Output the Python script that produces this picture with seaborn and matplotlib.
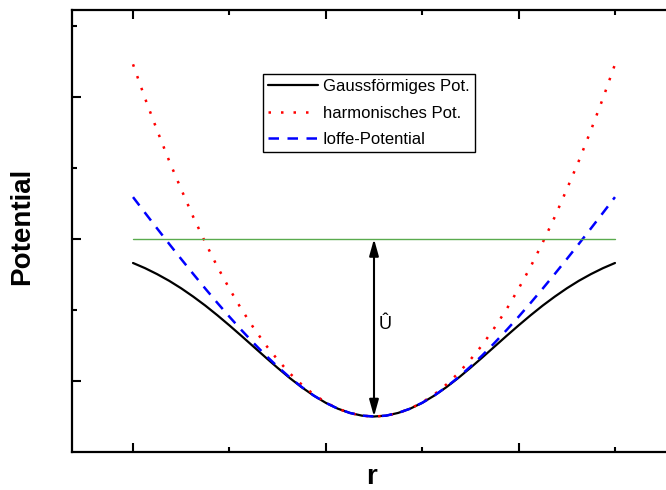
import matplotlib
matplotlib.use("Agg")
import matplotlib.pyplot as plt
import seaborn as sns
import pandas as pd

# ---- data ----
r_values = [0.0, 0.125, 0.25, 0.375, 0.5, 0.625, 0.75, 0.875, 1.0, 1.125,
            1.25, 1.375, 1.5, 1.625, 1.75, 1.875, 2.0, 2.125, 2.25, 2.375,
            2.5,
            2.625, 2.75, 2.875, 3.0, 3.125, 3.25, 3.375, 3.5, 3.625, 3.75,
            3.875, 4.0, 4.125, 4.25, 4.375, 4.5, 4.625, 4.75, 4.875, 5.0]
gauss_pot = [2.662, 2.589, 2.505, 2.411, 2.305, 2.188, 2.062, 1.926, 1.783, 1.635,
             1.484, 1.333, 1.185, 1.043, 0.912, 0.794, 0.692, 0.610, 0.550, 0.512,
             0.500,
             0.512, 0.550, 0.610, 0.692, 0.794, 0.912, 1.043, 1.185, 1.333, 1.484,
             1.635, 1.783, 1.926, 2.062, 2.188, 2.305, 2.411, 2.505, 2.589, 2.662]
harm_pot = [5.46, 4.98, 4.53, 4.10, 3.70, 3.31, 2.95, 2.61, 2.30, 2.01,
            1.75, 1.51, 1.30, 1.11, 0.95, 0.81, 0.70, 0.61, 0.55, 0.51,
            0.50,
            0.51, 0.55, 0.61, 0.70, 0.81, 0.95, 1.11, 1.30, 1.51, 1.75,
            2.01, 2.30, 2.61, 2.95, 3.31, 3.70, 4.10, 4.53, 4.98, 5.46]
ioffe_pot = [3.590, 3.368, 3.148, 2.931, 2.717, 2.507, 2.301, 2.100, 1.905, 1.717,
             1.536, 1.363, 1.202, 1.052, 0.915, 0.795, 0.693, 0.610, 0.550, 0.512,
             0.500,
             0.512, 0.550, 0.610, 0.693, 0.795, 0.915, 1.052, 1.202, 1.363, 1.536,
             1.717, 1.905, 2.100, 2.301, 2.507, 2.717, 2.931, 3.148, 3.368, 3.590]
depth_level = 3.0
min_level = 0.5
series_labels = ["Gaussförmiges Pot.", "harmonisches Pot.", "Ioffe-Potential"]
x_label = "r"
y_label = "Potential"
arrow_label = "Û"
x_major = [0, 2, 4]
x_minor = [1, 3, 5]
y_major = [1, 3, 5]
y_minor = [2, 4, 6]

sns.set_style("white")
plt.rcParams["font.family"] = ["Liberation Sans", "DejaVu Sans"]
plt.rcParams["text.color"] = "black"
plt.rcParams["axes.labelcolor"] = "black"

df = pd.DataFrame({"r": r_values, "gauss": gauss_pot, "harm": harm_pot, "ioffe": ioffe_pot})

W, H = 666, 490
fig = plt.figure(figsize=(W / 100, H / 100), dpi=100)
ax = fig.add_axes([72 / W, (H - 452) / H, (676 - 72) / W, (452 - 10) / H])

sns.lineplot(data=df, x="r", y="gauss", ax=ax, color="black", lw=1.6,
             label=series_labels[0])
sns.lineplot(data=df, x="r", y="harm", ax=ax, color="#ff0000", lw=1.8,
             linestyle=(0, (1, 4)), label=series_labels[1])
sns.lineplot(data=df, x="r", y="ioffe", ax=ax, color="#0000ff", lw=1.8,
             linestyle=(0, (4.2, 3.4)), label=series_labels[2])

ax.plot([r_values[0], r_values[-1]], [depth_level, depth_level], color="#5aab4e", lw=1.0)

ax.annotate("", xy=(2.5, min_level), xytext=(2.5, depth_level),
            arrowprops=dict(arrowstyle="<|-|>,head_length=1.0,head_width=0.28",
                            color="black", lw=1.5, mutation_scale=10,
                            shrinkA=0, shrinkB=0))
ax.text(2.55, 1.79, arrow_label, fontsize=13, ha="left", va="center", color="black")

ax.set_xlim(-0.633, 5.633)
ax.set_ylim(0, 6.225)
ax.set_xticks(x_major)
ax.set_xticks(x_minor, minor=True)
ax.set_yticks(y_major)
ax.set_yticks(y_minor, minor=True)
ax.tick_params(which="both", direction="in", top=True, bottom=True, left=True,
               right=False, labelbottom=False, labelleft=False, width=1.5,
               color="black")
ax.tick_params(which="major", length=6.5)
ax.tick_params(which="minor", length=3.5)
for s in ax.spines.values():
    s.set_linewidth(1.6)
    s.set_color("black")
ax.set_xlabel("")
ax.set_ylabel("")

fig.text(22 / W, 1 - 226 / H, y_label, rotation=90, fontsize=20, fontweight="bold",
         ha="center", va="center", color="black")
fig.text(372 / W, 1 - 477 / H, x_label, fontsize=20, fontweight="bold",
         ha="center", va="center", color="black")

leg = ax.legend(loc="upper left", bbox_to_anchor=(263 / W, 1 - 74 / H),
                bbox_transform=fig.transFigure, fontsize=12, frameon=True,
                fancybox=False, shadow=False, handlelength=3.0, handletextpad=0.3,
                borderpad=0.3, labelspacing=0.7, borderaxespad=0)
leg.get_frame().set_edgecolor("black")
leg.get_frame().set_linewidth(1.0)
leg.get_frame().set_alpha(1)
for t in leg.get_texts():
    t.set_color("black")

fig.savefig("out.png", dpi=100)
